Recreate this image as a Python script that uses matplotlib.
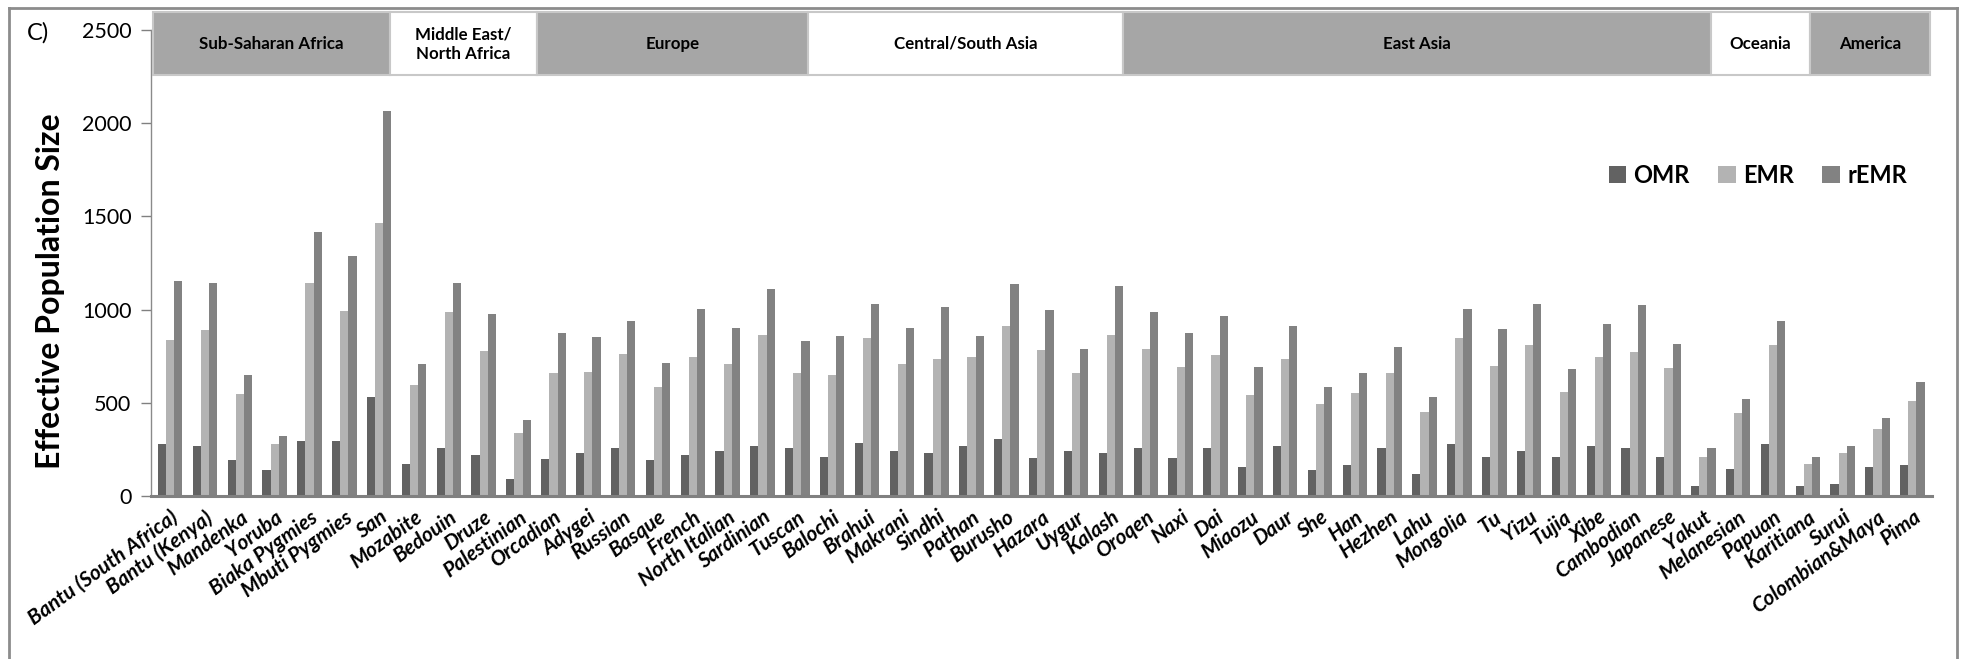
import numpy as np
import matplotlib.pyplot as plt
from matplotlib.patches import Rectangle
from matplotlib.lines import Line2D
import matplotlib.transforms as mtransforms

plt.rcParams['font.family'] = ['Lato', 'DejaVu Sans']

# populations, left to right
populations = ['Bantu (South Africa)', 'Bantu (Kenya)', 'Mandenka', 'Yoruba', 'Biaka Pygmies',
               'Mbuti Pygmies', 'San', 'Mozabite', 'Bedouin', 'Druze', 'Palestinian',
               'Orcadian', 'Adygei', 'Russian', 'Basque', 'French', 'North Italian', 'Sardinian',
               'Tuscan', 'Balochi', 'Brahui', 'Makrani', 'Sindhi', 'Pathan', 'Burusho', 'Hazara',
               'Uygur', 'Kalash', 'Oroqen', 'Naxi', 'Dai', 'Miaozu', 'Daur', 'She', 'Han',
               'Hezhen', 'Lahu', 'Mongolia', 'Tu', 'Yizu', 'Tujia', 'Xibe', 'Cambodian',
               'Japanese', 'Yakut', 'Melanesian', 'Papuan', 'Karitiana', 'Surui',
               'Colombian&Maya', 'Pima']

omr = [277, 266, 192, 138, 295, 295, 529, 174, 259, 221, 90,
       201, 230, 259, 192, 220, 240, 267, 258,
       211, 287, 240, 231, 267, 305, 202, 240, 231,
       258, 202, 258, 155, 267, 137, 164, 258, 117, 278, 211, 240, 211, 267, 258, 211, 52,
       146, 278,
       52, 63, 155, 164]

emr = [835, 893, 547, 277, 1144, 994, 1465, 594, 985, 780, 340,
       659, 668, 762, 585, 745, 708, 865, 659,
       650, 848, 708, 735, 745, 912, 782, 659, 865,
       791, 690, 755, 540, 735, 492, 554, 659, 453, 847, 697, 809, 556, 744, 771, 688, 211,
       446, 809,
       173, 231, 361, 509]

remr = [1153, 1144, 648, 324, 1416, 1290, 2066, 706, 1144, 976, 407,
        873, 855, 940, 716, 1004, 903, 1108, 829,
        856, 1032, 903, 1016, 856, 1137, 996, 791, 1126,
        987, 875, 968, 690, 912, 587, 659, 800, 529, 1005, 894, 1032, 679, 922, 1023, 818, 258,
        520, 940,
        211, 267, 417, 614]

series_names = ['OMR', 'EMR', 'rEMR']
series_colors = ['#626262', '#b3b3b3', '#828282']

regions = ['Sub-Saharan Africa', 'Middle East/\nNorth Africa', 'Europe', 'Central/South Asia',
           'East Asia', 'Oceania', 'America']
region_fills = ['#a6a6a6', 'white', '#a6a6a6', 'white', '#a6a6a6', 'white', '#a6a6a6']

# header band edges, as fractions of the axes width
band_edges = [0.001, 0.134, 0.217, 0.369, 0.546, 0.876, 0.932, 0.999]

fig = plt.figure(figsize=(19.73, 6.59), dpi=100)
ax = fig.add_axes([0.0765, 0.2473, 0.9025, 0.7072])

x = np.arange(len(populations))
w = 0.235
for i, (vals, name, col) in enumerate(zip([omr, emr, remr], series_names, series_colors)):
    ax.bar(x + (i - 1) * w, vals, width=w, color=col, label=name, linewidth=0)

ax.set_xlim(-0.55, len(populations) - 0.45)
ax.set_ylim(0, 2500)
ax.set_yticks(np.arange(0, 2501, 500))
ax.tick_params(axis='y', labelsize=15.5, length=7, width=1, color='#808080', pad=7)
ax.tick_params(axis='x', length=0, pad=8)
ax.set_xticks(x)
ax.set_xticklabels(populations, rotation=36, ha='right', rotation_mode='anchor',
                   fontsize=15, fontweight='bold', fontstyle='italic')

for s in ['top', 'right']:
    ax.spines[s].set_visible(False)
ax.spines['left'].set_color('#8a8a8a')
ax.spines['left'].set_linewidth(1)
ax.spines['bottom'].set_color('#808080')
ax.spines['bottom'].set_linewidth(2.2)

ax.set_ylabel('Effective Population Size', fontsize=23, fontweight='bold')
ax.yaxis.set_label_coords(-0.048, 0.44)

# region header band above the bars
trans = mtransforms.blended_transform_factory(ax.transAxes, ax.transData)
for name, fill, x0, x1 in zip(regions, region_fills, band_edges[:-1], band_edges[1:]):
    ax.add_patch(Rectangle((x0, 2256), x1 - x0, 338, transform=trans, facecolor=fill,
                           edgecolor='#c8c8c8', linewidth=1.5, clip_on=False, zorder=3))
    ax.text((x0 + x1) / 2, 2425, name, transform=trans, ha='center', va='center',
            fontsize=12.2, fontweight='bold', linespacing=1.3, zorder=4)

ax.legend(loc='center right', bbox_to_anchor=(0.998, 0.688), ncol=3, frameon=False,
          prop={'size': 17, 'weight': 'bold'}, handlelength=0.75, handleheight=0.75,
          handletextpad=0.3, columnspacing=1.2)

fig.text(27 / 1973, 1 - 33 / 659, 'C)', fontsize=17, ha='left', va='center')

# outer frame
for xs, ys in [([9, 1957], [8, 8]), ([1957, 1957], [8, 659]), ([9, 9], [8, 659])]:
    fig.add_artist(Line2D([v / 1973 for v in xs], [1 - v / 659 for v in ys],
                          color='#8c8c8c', linewidth=2))

fig.savefig('out.png', dpi=100)
